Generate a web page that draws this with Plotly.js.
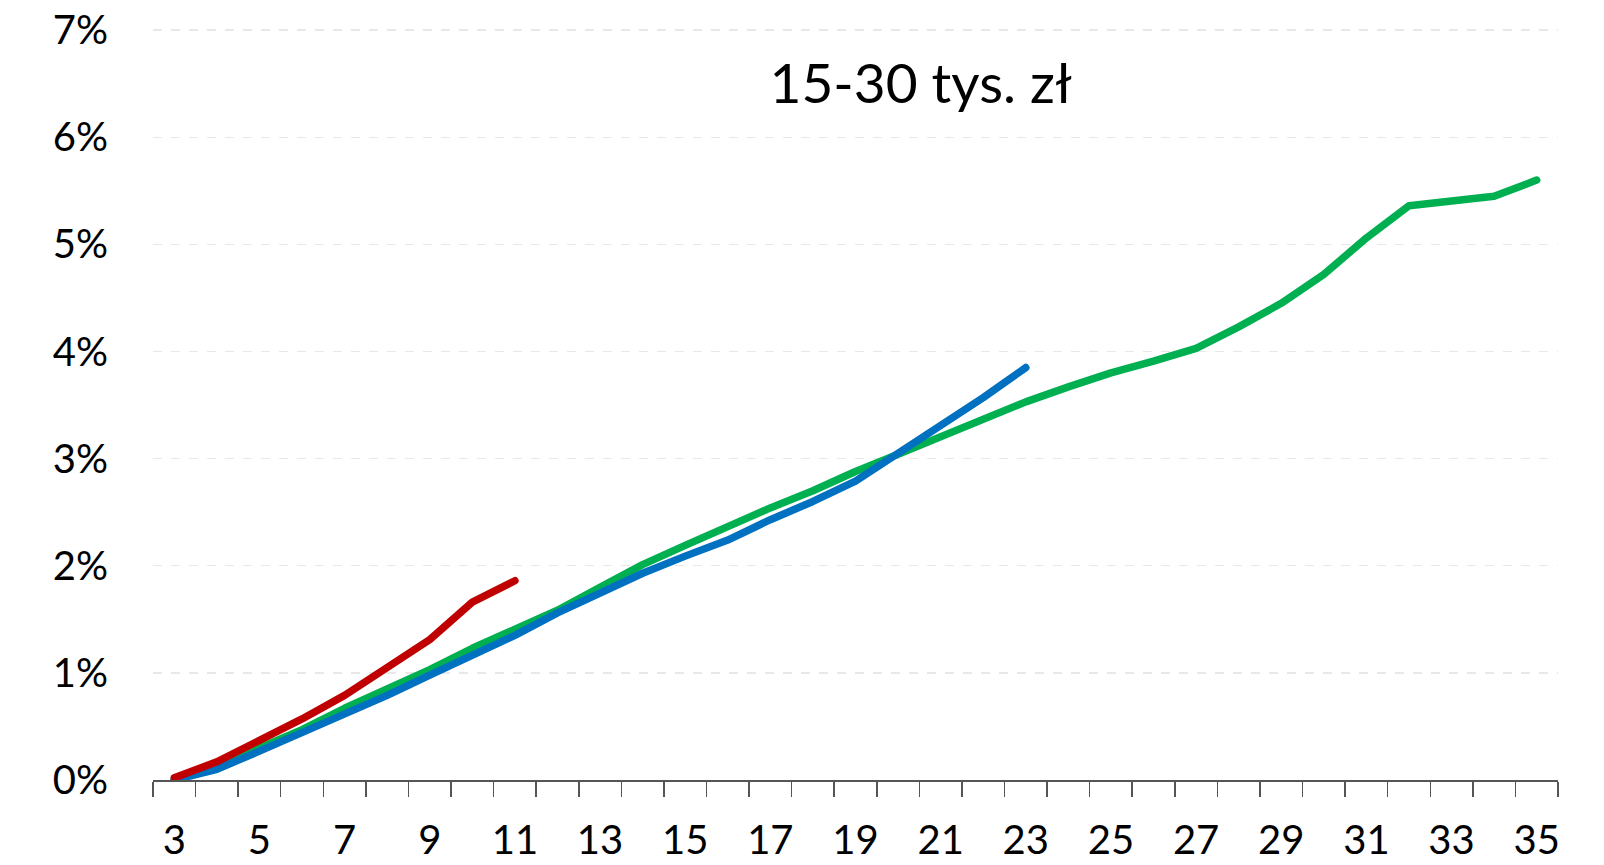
<!DOCTYPE html>
<html>
<head>
<meta charset="utf-8">
<script src="https://cdn.plot.ly/plotly-3.0.1.min.js"></script>
<style>html,body{margin:0;padding:0;background:#fff;}#chart{width:1604px;height:865px;}
.scatterlayer .js-line{stroke-linecap:round !important;stroke-linejoin:round !important;}</style>
</head>
<body>
<div id="chart"></div>
<script>
const months = [3,4,5,6,7,8,9,10,11,12,13,14,15,16,17,18,19,20,21,22,23,24,25,26,27,28,29,30,31,32,33,34,35];
const greenValues = [0.0,0.12,0.30,0.47,0.67,0.85,1.03,1.23,1.41,1.585,1.80,2.01,2.19,2.37,2.54,2.70,2.88,3.04,3.20,3.36,3.53,3.67,3.80,3.91,4.03,4.23,4.45,4.72,5.06,5.36,5.41,5.45,5.60];
const blueValues = [0.0,0.10,0.27,0.44,0.61,0.79,0.98,1.17,1.35,1.56,1.75,1.93,2.09,2.24,2.43,2.60,2.79,3.05,3.29,3.57,3.85];
const redValues = [0.02,0.17,0.37,0.57,0.79,1.04,1.31,1.66,1.86];
const tickMonths = [3,5,7,9,11,13,15,17,19,21,23,25,27,29,31,33,35];
const yTicks = [0,1,2,3,4,5,6,7];
const yTickLabels = ['0%','1%','2%','3%','4%','5%','6%','7%'];
const chartTitle = '15-30 tys. zł';

const lineStyle = c => ({color: c, width: 7.5, shape: 'linear'});
const traces = [
  {x: months.slice(0, greenValues.length), y: greenValues, mode: 'lines', line: lineStyle('#00B050'), hoverinfo: 'skip', cliponaxis: false},
  {x: months.slice(0, blueValues.length), y: blueValues, mode: 'lines', line: lineStyle('#0070C0'), hoverinfo: 'skip', cliponaxis: false},
  {x: months.slice(0, redValues.length), y: redValues, mode: 'lines', line: lineStyle('#C00000'), hoverinfo: 'skip', cliponaxis: false}
];
const fontFam = 'Lato, "Liberation Sans", sans-serif';
const layout = {
  width: 1604, height: 865,
  paper_bgcolor: '#fff', plot_bgcolor: '#fff',
  showlegend: false,
  margin: {l: 153, r: 46, t: 28, b: 85, pad: 0},
  title: {text: chartTitle, font: {family: fontFam, size: 55, color: '#000'}, xref: 'container', yref: 'container', x: 0.574, y: 0.903, xanchor: 'center', yanchor: 'middle'},
  xaxis: {
    range: [2.5, 35.5], tickmode: 'array', tickvals: tickMonths, ticktext: tickMonths.map(String),
    ticks: '', showgrid: false, zeroline: false,
    showline: true, linecolor: '#555', linewidth: 1.5,
    tickfont: {family: fontFam, size: 40, color: '#000'},
    ticklabelstandoff: 24,
    minor: {tick0: 2.5, dtick: 1, ticks: 'outside', ticklen: 15, tickcolor: '#555', tickwidth: 1.5, showgrid: false}
  },
  yaxis: {
    range: [0, 7.02], tickmode: 'array', tickvals: yTicks, ticktext: yTickLabels,
    ticks: '', showline: false, zeroline: false,
    showgrid: true, gridcolor: '#e8e8e8', gridwidth: 1.3, griddash: 'dash',
    tickfont: {family: fontFam, size: 40, color: '#000'},
    ticklabelstandoff: 44
  }
};
Plotly.newPlot('chart', traces, layout, {staticPlot: true, displayModeBar: false});
</script>
</body>
</html>
